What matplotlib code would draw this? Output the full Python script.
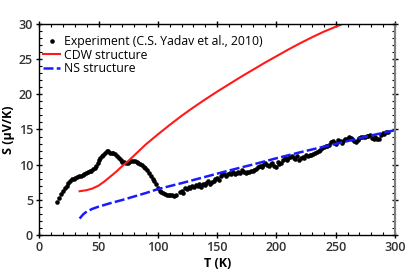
import numpy as np
import matplotlib
matplotlib.use("Agg")
import matplotlib.pyplot as plt
from matplotlib.ticker import MultipleLocator

plt.rcParams['font.family'] = ['Open Sans', 'DejaVu Sans']

# Experiment (C.S. Yadav et al., 2010)
exp_T = [15.2, 16.8, 18.5, 20.0, 21.5, 23.0, 24.5, 26.0, 27.5, 29.0, 30.5, 32.0,
         33.5, 35.0, 36.5, 38.0, 39.5, 41.0, 42.5, 44.0, 45.5, 47.0, 48.2, 49.2,
         50.2, 51.2, 52.5, 54.0, 55.5, 57.0, 58.0, 59.5, 61.0, 62.5, 64.0, 65.5,
         67.0, 68.5, 70.0, 71.5, 73.0, 74.5, 76.0, 77.5, 79.0, 80.5, 82.0, 83.5,
         85.0, 86.5, 88.0, 89.5, 91.0, 92.5, 94.0, 95.5, 97.0, 98.5, 100.0, 101.5,
         103.0, 104.5, 106.0, 107.5, 109.0, 110.5, 112.0, 113.5, 115.0,
         118.5, 120.0, 121.5, 123.0, 124.5, 126.0, 127.5, 129.0, 130.5, 132.0,
         133.5, 135.0, 136.5, 138.0, 139.5, 141.0, 142.5, 144.0, 145.5, 147.0,
         148.5, 150.0, 151.5, 153.0, 154.5, 156.0, 157.5, 159.0, 160.5, 162.0,
         163.5, 165.0, 166.5, 168.0, 169.5, 171.0, 172.5, 174.0, 175.5, 177.0,
         178.5, 180.0, 181.5, 183.0, 184.5, 186.0, 187.5, 189.0, 190.5, 192.0,
         193.5, 195.0, 196.5, 198.0, 199.5, 201.0, 202.5, 204.0, 205.5, 207.0,
         208.5, 210.0, 211.5, 213.0, 214.5, 216.0, 217.5, 219.0, 220.5, 222.0,
         223.5, 225.0, 226.5, 228.0, 229.5, 231.0, 232.5, 234.0, 235.5, 237.0,
         238.5, 240.0, 241.5, 243.0, 244.5, 246.0, 247.5, 249.0, 250.5, 252.0,
         253.5, 255.0, 256.5, 258.0, 259.5, 261.0, 262.5, 264.0, 265.5, 267.0,
         268.5, 270.0, 271.5, 273.0, 274.5, 276.0, 277.5, 279.0, 280.5, 282.0,
         283.5, 285.0, 286.5, 288.0, 289.5, 291.0, 292.5, 294.0]
exp_S = [4.6, 5.2, 5.8, 6.2, 6.6, 7.0, 7.4, 7.7, 7.9, 8.0, 8.1, 8.2,
         8.3, 8.35, 8.5, 8.7, 8.85, 9.0, 9.1, 9.15, 9.3, 9.5, 9.8, 10.2,
         10.6, 10.9, 11.2, 11.4, 11.6, 11.9, 11.95, 11.7, 11.7, 11.6, 11.45, 11.2,
         10.9, 10.6, 10.4, 10.3, 10.2, 10.25, 10.4, 10.5, 10.55, 10.5, 10.4, 10.25,
         10.1, 9.9, 9.7, 9.45, 9.2, 8.8, 8.4, 8.0, 7.7, 7.2, 6.6, 6.3,
         6.05, 5.9, 5.8, 5.7, 5.65, 5.6, 5.6, 5.55, 5.6,
         6.1, 6.3, 6.0, 6.6, 6.5, 6.85, 6.6, 7.0, 6.8, 7.1,
         6.9, 7.2, 6.85, 7.3, 7.1, 7.4, 7.6, 7.3, 7.55, 7.7,
         7.9, 8.05, 7.8, 8.4, 8.7, 8.6, 8.4, 8.7, 8.75, 8.6,
         8.9, 8.7, 8.8, 9.0, 8.85, 9.2, 9.0, 8.85, 8.9, 9.0,
         9.05, 9.15, 9.2, 9.4, 9.6, 9.8, 9.6, 10.0, 10.2, 9.95,
         9.8, 10.1, 10.25, 9.75, 9.6, 10.4, 10.1, 10.2, 10.6, 10.9,
         10.7, 10.9, 11.1, 11.2, 11.0, 10.8, 11.2, 10.7, 10.9, 11.1,
         11.0, 11.3, 11.2, 11.4, 11.35, 11.5, 11.6, 11.75, 12.0, 12.1,
         12.3, 12.5, 12.7, 12.6, 12.8, 13.2, 13.3, 13.1, 13.0, 13.5,
         13.3, 13.1, 13.4, 13.6, 13.7, 14.0, 13.8, 13.6, 13.4, 13.2,
         13.5, 13.8, 13.9, 14.0, 14.0, 14.1, 14.05, 14.15, 13.8, 13.6,
         13.9, 13.7, 13.6, 14.2, 14.5, 14.3, 14.6, 14.7]

# CDW structure
cdw_T = [34, 40, 45, 50, 55, 60, 65, 70, 75, 80, 85, 90, 95, 100, 110, 120,
         130, 140, 150, 160, 170, 180, 190, 200, 210, 220, 230, 240, 250, 258, 266]
cdw_S = [6.2, 6.35, 6.6, 7.0, 7.6, 8.3, 9.0, 9.8, 10.5, 11.3, 12.1, 12.9, 13.6,
         14.3, 15.65, 16.95, 18.15, 19.3, 20.4, 21.45, 22.5, 23.5, 24.5, 25.45,
         26.4, 27.3, 28.15, 28.95, 29.65, 30.2, 30.7]

# NS structure
ns_T = [34, 37, 40, 45, 50, 60, 70, 80, 90, 100, 120, 140, 160, 180, 200,
        220, 240, 260, 280, 300]
ns_S = [2.3, 2.9, 3.3, 3.7, 4.0, 4.5, 4.95, 5.45, 5.95, 6.5, 7.35, 8.25, 9.15,
        10.0, 10.9, 11.75, 12.55, 13.35, 14.15, 14.9]

fig = plt.figure(figsize=(4.15, 2.77), dpi=100)
ax = fig.add_axes([0.0947, 0.1527, 0.8571, 0.7596])

ax.plot(exp_T, exp_S, 'o', color='black', ms=3.3, mec='none',
        label='Experiment (C.S. Yadav et al., 2010)')
ax.plot(cdw_T, cdw_S, '-', color='#ff1a1a', lw=1.5, label='CDW structure')
ax.plot(ns_T, ns_S, '--', color='#1a1aff', lw=1.8, dashes=(4, 1.3),
        label='NS structure')

ax.set_xlim(0, 300)
ax.set_ylim(0, 30)
ax.xaxis.set_major_locator(MultipleLocator(50))
ax.xaxis.set_minor_locator(MultipleLocator(10))
ax.yaxis.set_major_locator(MultipleLocator(5))
ax.yaxis.set_minor_locator(MultipleLocator(1))
ax.tick_params(which='major', direction='inout', length=5, width=1,
               top=True, right=True, labelsize=9, labelcolor='#333333', pad=2)
ax.tick_params(which='minor', direction='in', length=2.5, width=0.8,
               top=True, right=True)
for lab in ax.get_xticklabels() + ax.get_yticklabels():
    lab.set_fontweight('semibold')
ax.spines['right'].set_color('#808080')
ax.spines['right'].set_linewidth(1.6)
for s in ['left', 'bottom', 'top']:
    ax.spines[s].set_linewidth(1.0)

ax.set_xlabel('T (K)', fontsize=9, fontweight='bold', labelpad=2)
ax.set_ylabel('S (μV/K)', fontsize=9, fontweight='bold', labelpad=3)

ax.legend(loc='upper left', bbox_to_anchor=(0.0, 0.965), frameon=False,
          fontsize=8.8, handlelength=1.4, handletextpad=0.3,
          labelspacing=0.02, borderaxespad=0.0, borderpad=0.3)

fig.savefig('out.png', dpi=100)
